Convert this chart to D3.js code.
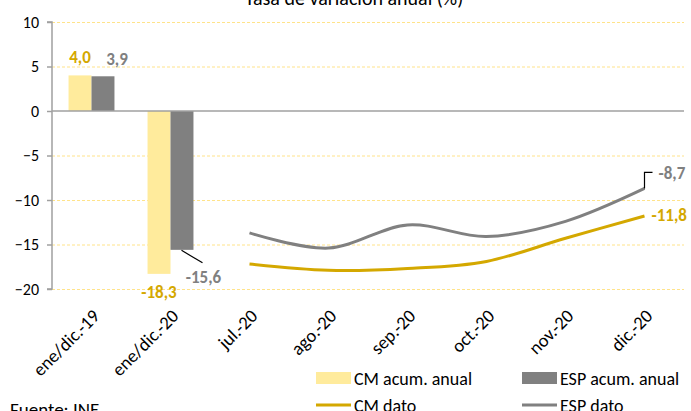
<!DOCTYPE html>
<html><head><meta charset="utf-8">
<script src="https://cdn.jsdelivr.net/npm/d3@7"></script>
<style>
body{margin:0;background:#fff;}
text{font-family:Carlito,Calibri,Lato,"Liberation Sans",sans-serif;}
</style></head>
<body><svg id="c" width="691" height="411"></svg>
<script>
const categories = ["ene/dic.-19","ene/dic.-20","jul.-20","ago.-20","sep.-20","oct.-20","nov.-20","dic.-20"];
const barCats = ["ene/dic.-19","ene/dic.-20"];
const cmAcum = [4.0, -18.3];
const espAcum = [3.9, -15.6];
const lineCats = ["jul.-20","ago.-20","sep.-20","oct.-20","nov.-20","dic.-20"];
const cmDato = [-17.2, -17.9, -17.7, -16.9, -14.3, -11.8];
const espDato = [-13.7, -15.4, -12.8, -14.1, -12.4, -8.7];
const yTicks = [10,5,0,-5,-10,-15,-20];
const title = "Tasa de variación anual (%)";

const svg = d3.select("#c");
const x = d3.scaleBand().domain(categories).range([52,684]);
const y = d3.scaleLinear().domain([-20,10]).range([289,22]);
const sub = d3.scaleBand().domain(["CM","ESP"]).range([0,x.bandwidth()]).paddingOuter(0.72);

const GOLD = "#D4A800", GREY = "#808080", LIGHT = "#FFEB9C";

// title
svg.append("text").attr("x",354).attr("y",5).attr("text-anchor","middle")
  .attr("font-size",20).attr("fill","#000").text(title);

// grid
svg.append("g").selectAll("line").data(yTicks.filter(d=>d!==0)).join("line")
  .attr("x1",52).attr("x2",684).attr("y1",d=>y(d)+0.5).attr("y2",d=>y(d)+0.5)
  .attr("stroke","#FFE38A").attr("stroke-width",1).attr("stroke-dasharray","3,2");

// bars
const barData = [];
barCats.forEach((c,i)=>{barData.push({c,s:"CM",v:cmAcum[i]});barData.push({c,s:"ESP",v:espAcum[i]});});
svg.append("g").selectAll("rect").data(barData).join("rect")
  .attr("x",d=>x(d.c)+sub(d.s)).attr("width",sub.bandwidth())
  .attr("y",d=>y(Math.max(0,d.v))).attr("height",d=>Math.abs(y(d.v)-y(0)))
  .attr("fill",d=>d.s==="CM"?LIGHT:GREY);

// zero line
svg.append("line").attr("x1",52).attr("x2",684).attr("y1",y(0)).attr("y2",y(0))
  .attr("stroke","#A0A0A0").attr("stroke-width",1.5);

// y axis
const yAxis = d3.axisLeft(y).tickValues(yTicks).tickSize(5).tickPadding(8).tickFormat(d3.format("d"));
const ga = svg.append("g").attr("transform","translate(52,0)").call(yAxis);
ga.select(".domain").attr("stroke","#A0A0A0").attr("stroke-width",1.5).attr("d","M-5,"+y(10)+"H0V"+y(-20)+"H-5");
ga.selectAll(".tick line").attr("stroke","#A0A0A0").attr("stroke-width",1.5);
ga.selectAll(".tick text").attr("font-size",16).attr("fill","#000").attr("font-family","Carlito,Calibri,Lato,sans-serif");

// x labels
svg.append("g").selectAll("text").data(categories).join("text")
  .attr("transform",d=>`translate(${x(d)+x.bandwidth()/2},${308}) rotate(-45)`)
  .attr("text-anchor","end").attr("dy","0.7em").attr("font-size",18.5).attr("fill","#000").text(d=>d);

// lines
const cx = d=>x(d)+x.bandwidth()/2;
const line = d3.line().x(d=>cx(d.c)).y(d=>y(d.v)).curve(d3.curveCatmullRom.alpha(0));
svg.append("path").datum(lineCats.map((c,i)=>({c,v:espDato[i]}))).attr("d",line)
  .attr("fill","none").attr("stroke",GREY).attr("stroke-width",3);
svg.append("path").datum(lineCats.map((c,i)=>({c,v:cmDato[i]}))).attr("d",line)
  .attr("fill","none").attr("stroke",GOLD).attr("stroke-width",3);

const fmt = v=>d3.format(".1f")(v).replace(".",",").replace("−","-");
const lab = (tx,ty,t,col,anchor)=>svg.append("text").attr("x",tx).attr("y",ty)
  .attr("text-anchor",anchor||"middle").attr("font-size",17).attr("font-weight","bold").attr("fill",col).text(t);

// bar labels
const b0 = x(barCats[0]), b1 = x(barCats[1]);
lab(b0+sub("CM")+sub.bandwidth()/2, y(cmAcum[0])-12.5, fmt(cmAcum[0]), GOLD);
lab(b0+sub("ESP")+sub.bandwidth()/2+14, y(espAcum[0])-11.5, fmt(espAcum[0]), GREY);
lab(b1+sub("CM")+sub.bandwidth()/2, y(cmAcum[1])+24, fmt(cmAcum[1]), GOLD);
lab(b1+sub("ESP")+sub.bandwidth()+10, y(espAcum[1])+33.5, fmt(espAcum[1]), GREY);
svg.append("line").attr("x1",b1+sub("ESP")+11).attr("y1",y(espAcum[1])+0.5)
  .attr("x2",b1+sub("ESP")+32).attr("y2",y(espAcum[1])+13).attr("stroke","#000").attr("stroke-width",1.2);

// line end labels
const xe = cx(lineCats[lineCats.length-1]);
const ye = y(espDato[espDato.length-1]);
svg.append("path").attr("d",`M${xe},${ye}V${ye-16}H${xe+8}`).attr("fill","none").attr("stroke","#000").attr("stroke-width",1.2);
lab(xe+14, ye-9.5, fmt(espDato[espDato.length-1]), GREY, "start");
lab(xe+7, y(cmDato[cmDato.length-1])+5, fmt(cmDato[cmDato.length-1]), GOLD, "start");

// legend
const lg = svg.append("g");
const legend = [
  {t:"CM acum. anual",type:"rect",c:LIGHT,x:316,y:378},
  {t:"ESP acum. anual",type:"rect",c:GREY,x:522,y:378},
  {t:"CM dato",type:"line",c:GOLD,x:316,y:405},
  {t:"ESP dato",type:"line",c:GREY,x:522,y:405}
];
legend.forEach(l=>{
  if(l.type==="rect") lg.append("rect").attr("x",l.x).attr("y",l.y-6).attr("width",35).attr("height",12).attr("fill",l.c);
  else lg.append("line").attr("x1",l.x).attr("x2",l.x+35).attr("y1",l.y).attr("y2",l.y).attr("stroke",l.c).attr("stroke-width",3);
  lg.append("text").attr("x",l.x+38).attr("y",l.y+6.5).attr("font-size",18).attr("fill","#000").text(l.t);
});

svg.append("text").attr("x",10).attr("y",416).attr("font-size",19).attr("fill","#000").text("Fuente: INE");
</script></body></html>
